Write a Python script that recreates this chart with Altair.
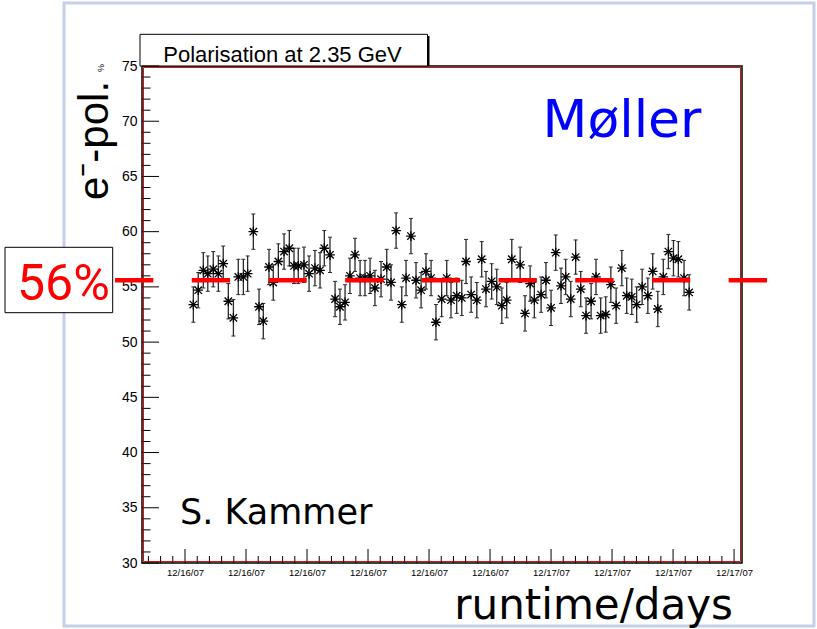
import json
import altair as alt
import pandas as pd

# ---------------- data ----------------
# time in hours since 12/16/07 00:00
hours = [6.41, 6.65, 6.90, 7.12, 7.39, 7.64, 7.88, 8.13, 8.38, 8.62,
         8.87, 9.08, 9.36, 9.64, 9.85, 10.13, 10.34, 10.59, 10.87, 11.13,
         11.36, 11.57, 11.85, 12.10, 12.39, 12.64, 12.85, 13.13, 13.38, 13.62,
         13.87, 14.11, 14.36, 14.61, 14.85, 15.10, 15.34, 15.64, 15.92, 16.13,
         16.38, 16.66, 16.87, 17.11, 17.36, 17.61, 17.85, 18.10, 18.34, 18.62,
         18.87, 19.08, 19.36, 19.61, 19.82, 20.07, 20.35, 20.59, 20.80, 21.08,
         21.33, 21.58, 21.82, 22.07, 22.48, 22.72, 22.97, 23.18, 23.51, 23.75,
         24.00, 24.23, 24.49, 24.72, 24.97, 25.21, 25.46, 25.72, 25.97, 26.21,
         26.44, 26.69, 26.94, 27.20, 27.48, 27.72, 27.97, 28.21, 28.48, 28.76,
         29.00, 29.25, 29.52, 29.77, 30.02, 30.26, 30.54, 30.79]
pol = [53.4, 54.7, 56.5, 56.2, 56.6, 56.2, 57.1, 53.7, 52.2, 55.9,
       55.9, 56.2, 60.0, 53.2, 51.9, 56.8, 55.4, 57.3, 58.2, 58.5,
       56.9, 56.9, 57.0, 56.2, 56.7, 56.5, 58.5, 57.9, 53.9, 53.2,
       53.6, 56.0, 57.9, 55.8, 55.8, 56.0, 54.9, 55.7, 56.8, 55.4,
       60.1, 53.4, 55.8, 59.6, 55.6, 54.7, 56.4, 55.8, 51.8, 53.9,
       55.8, 53.8, 54.2, 54.0, 57.3, 54.3, 53.8, 57.5, 54.8, 55.5,
       55.0, 53.3, 53.8, 57.5, 57.0, 52.6, 55.3, 53.8, 54.3, 55.6,
       53.1, 58.1, 55.1, 55.9, 53.9, 57.7, 54.8, 52.4, 53.7, 55.9,
       52.4, 52.5, 55.2, 53.3, 56.7, 54.2, 54.1, 53.4, 55.0, 54.2,
       56.4, 53.0, 55.9, 58.2, 57.6, 57.5, 55.8, 54.5]
err = [1.6, 1.6, 1.6, 1.6, 1.6, 1.6, 1.6, 1.6, 1.65, 1.6,
       1.6, 1.6, 1.6, 1.6, 1.6, 1.6, 1.6, 1.6, 1.6, 1.6,
       1.6, 1.6, 1.6, 1.6, 1.6, 1.6, 1.6, 1.6, 1.6, 1.6,
       1.6, 1.6, 1.5, 1.6, 1.6, 1.6, 1.6, 1.6, 1.6, 1.6,
       1.6, 1.6, 1.6, 1.6, 1.6, 1.6, 1.6, 1.6, 1.6, 1.6,
       1.6, 1.6, 1.6, 1.6, 2.0, 1.6, 1.6, 1.6, 1.6, 1.6,
       1.6, 1.6, 1.6, 1.8, 1.6, 1.6, 1.6, 1.6, 1.6, 1.6,
       1.6, 1.6, 1.6, 1.6, 1.6, 1.55, 1.6, 1.6, 1.6, 1.6,
       1.6, 1.6, 1.6, 1.6, 1.6, 1.6, 1.6, 1.6, 1.6, 1.6,
       1.6, 1.6, 1.6, 1.55, 1.6, 1.6, 1.6, 1.6]

mean_pol = [55.6]
mean_from = [2.56]
mean_to = [34.62]

tick_hours = [6, 9, 12, 15, 18, 21, 24, 27, 30, 33]
tick_labels = ["12/16/07"] * 6 + ["12/17/07"] * 4
y_major = [30, 35, 40, 45, 50, 55, 60, 65, 70, 75]
y_minor = [v for v in range(31, 75) if v % 5 != 0]
x_minor = [round(3.6 + 0.6 * k, 2) for k in range(1, 51)]
x_minor = [v for v in x_minor if 3.885 < v < 33.39 and abs((v - 6) / 3 - round((v - 6) / 3)) > 1e-6]

title_text = ["Polarisation at 2.35 GeV"]
moller_text = ["Møller"]
author_text = ["S. Kammer"]
xlabel_text = ["runtime/days"]
ylabel_text = ["e⁻-pol."]
pct_text = ["56%"]

# ---------------- scales / axes ----------------
W, H = 600, 497
x_scale = alt.Scale(domain=[3.885, 33.39], nice=False, zero=False)
y_scale = alt.Scale(domain=[30, 75], nice=False, zero=False)
label_expr = "%s[indexof(%s, datum.value)]" % (json.dumps(tick_labels), json.dumps(tick_hours))
x_axis = alt.Axis(values=tick_hours, labelExpr=label_expr, ticks=False, domain=False,
                  grid=False, labelFont="Liberation Sans", labelFontSize=9.5,
                  labelPadding=4, labelColor="black", labelOverlap=False, labelFlush=False)
y_axis = alt.Axis(values=y_major, ticks=False, domain=False, grid=False,
                  labelFont="Liberation Sans", labelFontSize=14, labelPadding=5,
                  labelColor="black", labelOverlap=False, labelFlush=False)


def X(f):
    return alt.X(f, type="quantitative", scale=x_scale, axis=x_axis, title=None)


def Y(f):
    return alt.Y(f, type="quantitative", scale=y_scale, axis=y_axis, title=None)


one = pd.DataFrame({"a": [0]})
df = pd.DataFrame({"h": hours, "pol": pol, "err": err})

# slide border
border = alt.Chart(one).mark_rect(fillOpacity=0, stroke="#c5cfe9", strokeWidth=3).encode(
    x=alt.value(-78), x2=alt.value(672), y=alt.value(-63), y2=alt.value(560))

# 56% box
pct_box = alt.Chart(one).mark_rect(fill="white", stroke="black", strokeWidth=1).encode(
    x=alt.value(-137), x2=alt.value(-29.3), y=alt.value(181.3), y2=alt.value(246.7))
pct = alt.Chart(pd.DataFrame({"t": pct_text})).mark_text(
    font="Roboto", fontSize=50, color="#ff0000", align="center", baseline="alphabetic").encode(
    x=alt.value(-78.6), y=alt.value(234), text="t:N")

# title box
title_shadow = alt.Chart(one).mark_rect(fill="black").encode(
    x=alt.value(0), x2=alt.value(287.5), y=alt.value(-30), y2=alt.value(0))
title_box = alt.Chart(one).mark_rect(fill="white", stroke="black", strokeWidth=1).encode(
    x=alt.value(-2), x2=alt.value(285.5), y=alt.value(-31.7), y2=alt.value(0))
title = alt.Chart(pd.DataFrame({"t": title_text})).mark_text(
    font="Liberation Sans", fontSize=22, align="center", baseline="alphabetic", color="black").encode(
    x=alt.value(140.5), y=alt.value(-4.5), text="t:N")

# inward ticks
ymaj = alt.Chart(pd.DataFrame({"v": y_major})).mark_rule(color="black", strokeWidth=1).encode(
    y=Y("v"), x=alt.value(0), x2=alt.value(17))
ymin = alt.Chart(pd.DataFrame({"v": y_minor})).mark_rule(color="black", strokeWidth=1).encode(
    y=Y("v"), x=alt.value(0), x2=alt.value(8.5))
xmaj = alt.Chart(pd.DataFrame({"v": tick_hours})).mark_rule(color="black", strokeWidth=1).encode(
    x=X("v"), y=alt.value(H), y2=alt.value(H - 14))
xmin = alt.Chart(pd.DataFrame({"v": x_minor})).mark_rule(color="black", strokeWidth=1).encode(
    x=X("v"), y=alt.value(H), y2=alt.value(H - 7))

# red inner frame
red_frame = alt.Chart(one).mark_rect(fillOpacity=0, stroke="#c00000", strokeWidth=0.9).encode(
    x=alt.value(1.5), x2=alt.value(W - 1.5), y=alt.value(1.5), y2=alt.value(H - 1.5))

# error bars
base = alt.Chart(df).transform_calculate(lo="datum.pol - datum.err", hi="datum.pol + datum.err")
bars = base.mark_rule(color="#2a2a2a", strokeWidth=1.3).encode(x=X("h"), y=Y("lo:Q"), y2="hi:Q")
cap_shape = "M-1,0L1,0"
caps_lo = base.mark_point(shape=cap_shape, size=16, stroke="#2a2a2a", strokeWidth=1, opacity=1).encode(
    x=X("h"), y=Y("lo:Q"))
caps_hi = base.mark_point(shape=cap_shape, size=16, stroke="#2a2a2a", strokeWidth=1, opacity=1).encode(
    x=X("h"), y=Y("hi:Q"))
star_shape = "M-1,-1L1,1M-1,1L1,-1M0,-1.3L0,1.3M-1.3,0L1.3,0"
stars = alt.Chart(df).mark_point(shape=star_shape, size=55, filled=False, stroke="black",
                                 strokeWidth=1.3, opacity=1).encode(x=X("h"), y=Y("pol"))

# mean dashed line
mean_df = pd.DataFrame({"x0": mean_from, "x1": mean_to, "m": mean_pol})
mean_line = alt.Chart(mean_df).mark_rule(color="#ff0000", strokeWidth=4.5,
                                         strokeDash=[38.3, 38.4]).encode(
    x=X("x0"), x2="x1:Q", y=Y("m"))

# annotation texts
moller = alt.Chart(pd.DataFrame({"t": moller_text})).mark_text(
    font="DejaVu Sans", fontSize=52, color="#0000ff", align="center", baseline="alphabetic").encode(
    x=alt.value(480), y=alt.value(70.7), text="t:N")
author = alt.Chart(pd.DataFrame({"t": author_text})).mark_text(
    font="DejaVu Sans", fontSize=35, color="black", align="left", baseline="alphabetic").encode(
    x=alt.value(38), y=alt.value(458), text="t:N")
xlabel = alt.Chart(pd.DataFrame({"t": xlabel_text})).mark_text(
    font="DejaVu Sans", fontSize=42, color="black", align="right", baseline="alphabetic").encode(
    x=alt.value(591), y=alt.value(553), text="t:N")
ylabel = alt.Chart(pd.DataFrame({"t": ylabel_text})).mark_text(
    font="Liberation Sans", fontSize=42, color="black", angle=270, align="left",
    baseline="alphabetic").encode(x=alt.value(-34), y=alt.value(134), text="t:N")
ypct = alt.Chart(pd.DataFrame({"t": ["%"]})).mark_text(
    font="Liberation Sans", fontSize=9, color="black", angle=270, align="left",
    baseline="alphabetic").encode(x=alt.value(-38), y=alt.value(6), text="t:N")

chart = alt.layer(
    border, pct_box, pct, title_shadow, title_box, title,
    ymaj, ymin, xmaj, xmin, red_frame,
    bars, caps_lo, caps_hi, stars, mean_line,
    moller, author, xlabel, ylabel, ypct,
).properties(
    width=W, height=H,
    padding={"left": 142, "top": 66, "right": 75, "bottom": 66},
    autosize=alt.AutoSizeParams(type="none"),
    background="white",
).configure_view(stroke="black", strokeWidth=1.5)

chart.save("out.html", embed_options={"renderer": "svg", "actions": False})
